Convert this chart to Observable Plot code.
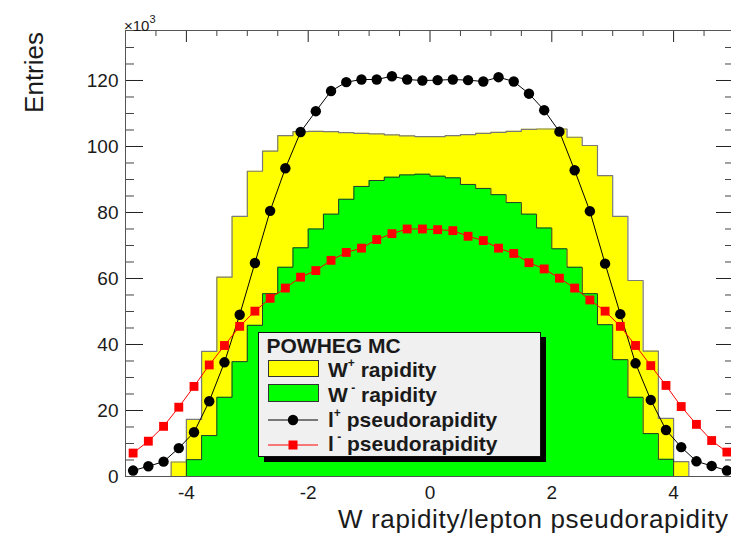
<!DOCTYPE html>
<html><head><meta charset="utf-8">
<script src="https://cdn.jsdelivr.net/npm/d3@7"></script>
<script src="https://cdn.jsdelivr.net/npm/@observablehq/plot@0.6"></script>
<style>
html,body{margin:0;padding:0;background:#fff;overflow:hidden;width:731px;height:539px}
#chart svg{display:block}
</style>
</head><body><div id="chart"></div>
<script>
// Bin edges (0.25 wide) and centres
const binEdges = [-5,-4.75,-4.5,-4.25,-4,-3.75,-3.5,-3.25,-3,-2.75,-2.5,-2.25,-2,-1.75,-1.5,-1.25,-1,-0.75,-0.5,-0.25,0,
  0.25,0.5,0.75,1,1.25,1.5,1.75,2,2.25,2.5,2.75,3,3.25,3.5,3.75,4,4.25,4.5,4.75,5];
const binCenters = [-4.875,-4.625,-4.375,-4.125,-3.875,-3.625,-3.375,-3.125,-2.875,-2.625,-2.375,-2.125,-1.875,-1.625,-1.375,-1.125,-0.875,-0.625,-0.375,-0.125,
  0.125,0.375,0.625,0.875,1.125,1.375,1.625,1.875,2.125,2.375,2.625,2.875,3.125,3.375,3.625,3.875,4.125,4.375,4.625,4.875];

// Entries (x10^3)
const wPlus = [0,0,0,4.4,17.3,37.9,60.4,78.8,92.5,98.6,103.3,104.5,104.6,104.5,104.2,104,103.8,103.5,103.2,103,
  103,103.3,103.6,104,104.3,104.6,105.2,105.3,105.3,102.8,100.3,91.2,78.8,59.4,38,17.6,4.5,0,0,0];
const wMinus = [0,0,0,0,5.1,12.4,24,34.8,45.8,55.4,63.4,69.3,75,79.5,84,87.9,89.7,90.7,91.4,91.6,
  91,90.5,88.5,87.3,85.4,83,79.5,75.3,69,63.4,55.4,46,35.4,24,13,5.2,0,0,0,0];
const lPlus = [1.8,3.1,4.5,8.6,13.4,22.8,34.6,49,64.7,80.5,93.4,104.4,110.7,116.8,119.5,120.3,120.3,121.3,120.3,120,
  120.1,120.3,120.1,119.7,121,119.7,116,111,104.5,92.8,80.4,64.5,49.2,34.3,23.2,14.1,8.9,4.6,3.2,1.8];
const lMinus = [7.1,10.7,15.2,21,27.3,33.8,39.7,45.5,50.1,54,57.1,60.4,62.4,65.5,67.9,69.2,71.8,73.6,75,75,
  74.8,74.5,72.8,71.5,69.2,67.6,64.8,62.9,60.1,57.1,53.5,50.1,45.5,39.7,33.6,27.6,21.2,15.8,10.9,7.4];

// Axis ticks
const yMajor = [0,20,40,60,80,100,120];
const yMinor = [5,10,15,25,30,35,45,50,55,65,70,75,85,90,95,105,110,115,125,130];
const xMajor = [-4,-2,0,2,4];
const xMinor = [-4.5,-3.5,-3,-2.5,-1.5,-1,-0.5,0.5,1,1.5,2.5,3,3.5,4.5];

const FONT = "'Liberation Sans', Arial, Helvetica, sans-serif";
const W = 735, H = 539, ML = 125, MR = 1, MT = 30, MB = 63;
const FW = W - ML - MR, FH = H - MT - MB;

function steps(vals) {
  const pts = [];
  vals.forEach((v, i) => { pts.push({x: binEdges[i], y: v}); pts.push({x: binEdges[i + 1], y: v}); });
  return pts;
}
const cx = (d, i) => binCenters[i];
const cy = d => d;

const chart = Plot.plot({
  width: W, height: H,
  marginLeft: ML, marginRight: MR, marginTop: MT, marginBottom: MB,
  x: {domain: [-5, 5]},
  y: {domain: [0, 135.15]},
  style: {fontFamily: FONT, fontSize: "19px", color: "#1a1a1a", background: "#fff", maxWidth: "none", overflow: "visible"},
  marks: [
    Plot.area(steps(wPlus), {x1: "x", y1: 0, y2: "y", fill: "#ffff00"}),
    Plot.line(steps(wPlus), {x: "x", y: "y", stroke: "#7a7a7a", strokeWidth: 1.2}),
    Plot.area(steps(wMinus), {x1: "x", y1: 0, y2: "y", fill: "#00ff00"}),
    Plot.line(steps(wMinus), {x: "x", y: "y", stroke: "#2a3a2a", strokeWidth: 1}),
    Plot.line(lPlus, {x: cx, y: cy, stroke: "#000", strokeWidth: 1}),
    Plot.dot(lPlus, {x: cx, y: cy, r: 5.2, fill: "#000", stroke: null}),
    Plot.line(lMinus, {x: cx, y: cy, stroke: "#ff0000", strokeWidth: 1}),
    Plot.dot(lMinus, {x: cx, y: cy, r: 5, symbol: "square", fill: "#ff0000", stroke: null}),
    // inner frame ticks
    Plot.tickY(yMajor, {y: d => d, insetRight: FW - 18, stroke: "#222"}),
    Plot.tickY(yMinor, {y: d => d, insetRight: FW - 9, stroke: "#444"}),
    Plot.tickY(yMajor, {y: d => d, insetLeft: FW - 18, stroke: "#222"}),
    Plot.tickY(yMinor, {y: d => d, insetLeft: FW - 9, stroke: "#444"}),
    Plot.tickX(xMajor, {x: d => d, insetBottom: FH - 12, stroke: "#222"}),
    Plot.tickX(xMinor, {x: d => d, insetBottom: FH - 6, stroke: "#444"}),
    Plot.frame({stroke: "#555"}),
    Plot.axisY(yMajor, {tickSize: 0, tickPadding: 7, fontSize: 19, label: null, tickFormat: d => String(d)}),
    Plot.axisX(xMajor, {tickSize: 0, tickPadding: 9, fontSize: 19, label: null, tickFormat: d => String(d)})
  ]
});
document.getElementById("chart").appendChild(chart);

// Titles, multiplier, legend
const svg = d3.select(chart);
const g = svg.append("g").attr("font-family", FONT).attr("fill", "#1a1a1a").attr("text-anchor", "start");

const mult = g.append("text").attr("x", 124).attr("y", 30.5).attr("font-size", 15);
mult.append("tspan").text("×10");
mult.append("tspan").attr("font-size", 11).attr("dy", -8).text("3");

g.append("text").attr("transform", "translate(43,32) rotate(-90)")
  .attr("text-anchor", "end").attr("font-size", 26).text("Entries");

g.append("text").attr("x", 338).attr("y", 528).attr("font-size", 26)
  .attr("textLength", 390).attr("lengthAdjust", "spacing")
  .text("W rapidity/lepton pseudorapidity");

// Legend
const lg = g.append("g");
lg.append("rect").attr("x", 264).attr("y", 337).attr("width", 282).attr("height", 125).attr("fill", "#000");
lg.append("rect").attr("x", 258.5).attr("y", 332.5).attr("width", 282).attr("height", 124)
  .attr("fill", "#f0f0f0").attr("stroke", "#111").attr("stroke-width", 1);
lg.append("text").attr("x", 266.5).attr("y", 352.7).attr("font-size", 21).attr("font-weight", "bold").text("POWHEG MC");

function legText(y, main, sup, rest) {
  const t = lg.append("text").attr("x", 328).attr("y", y).attr("font-size", 21).attr("font-weight", "bold");
  t.append("tspan").text(main);
  t.append("tspan").attr("font-size", 12).attr("dy", -10).text(sup);
  t.append("tspan").attr("dy", 10).text(rest);
}
lg.append("rect").attr("x", 268.5).attr("y", 360.5).attr("width", 50).attr("height", 16)
  .attr("fill", "#ffff00").attr("stroke", "#333");
legText(376.5, "W", "+", " rapidity");
lg.append("rect").attr("x", 268.5).attr("y", 384.5).attr("width", 50).attr("height", 17)
  .attr("fill", "#00ff00").attr("stroke", "#333");
legText(401.5, "W", " -", " rapidity");
lg.append("line").attr("x1", 268).attr("x2", 318).attr("y1", 420).attr("y2", 420).attr("stroke", "#000");
lg.append("circle").attr("cx", 293).attr("cy", 420).attr("r", 5.2).attr("fill", "#000");
legText(427, "l", "+", " pseudorapidity");
lg.append("line").attr("x1", 268).attr("x2", 318).attr("y1", 445).attr("y2", 445).attr("stroke", "#ff0000");
lg.append("rect").attr("x", 288.5).attr("y", 440.5).attr("width", 9).attr("height", 9).attr("fill", "#ff0000");
legText(451, "l", " -", " pseudorapidity");
</script>
</body></html>
